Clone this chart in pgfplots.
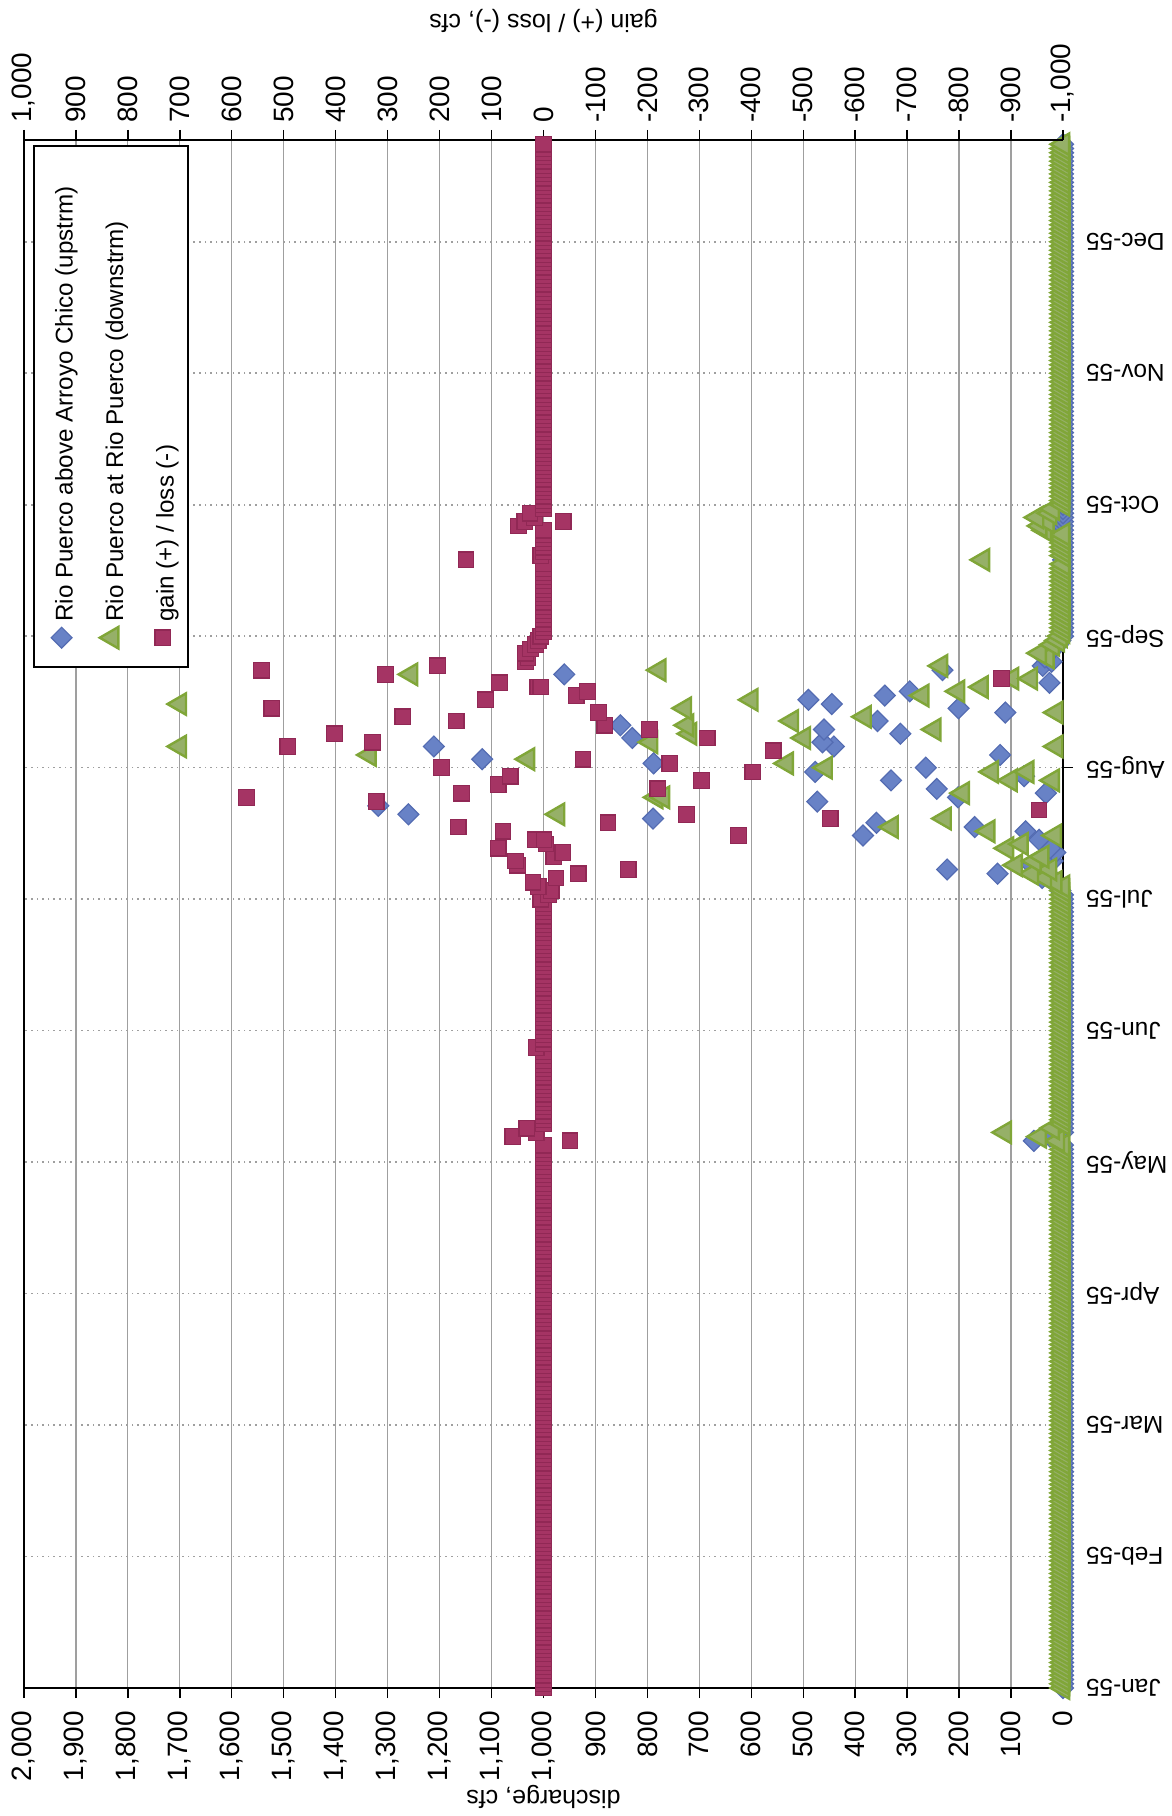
\documentclass[border=0pt]{standalone}
\usepackage{fontspec}
\setmainfont{Liberation Sans}
\usepackage{graphicx}
\usepackage{pgfplots}
\pgfplotsset{compat=1.18}
\definecolor{upblue}{RGB}{104,130,198}
\definecolor{upbluedk}{RGB}{84,108,178}
\definecolor{dngreen}{RGB}{150,176,104}
\definecolor{dngreendk}{RGB}{128,166,56}
\definecolor{gainred}{RGB}{165,52,100}
\definecolor{gainreddk}{RGB}{145,40,85}
\pgfplotsset{
 legimg/.style={legend image code/.code={\path (-4.7pt,0pt) (0pt,0pt); \draw[overlay,##1] plot coordinates {(5.8pt,-4pt)};}},
 upst/.style={only marks, color=upblue, mark=square*, mark size=3.7pt, mark options={rotate=45, fill=upblue, draw=upbluedk, line width=0.6pt}, legimg},
 dnst/.style={only marks, color=dngreen, mark=triangle*, mark size=6.2pt, mark options={rotate=90, fill=dngreen, draw=dngreendk, line width=1.2pt}, legimg},
 gainst/.style={only marks, color=gainred, mark=square*, mark size=3.9pt, mark options={fill=gainred, draw=gainreddk, line width=0.6pt}, legimg},
}
\begin{document}
\begin{tikzpicture}
\begin{axis}[
  name=main, at={(0,0)}, anchor=south west,
  scale only axis, width=519.5pt, height=774pt,
  xmin=0, xmax=2000, x dir=reverse,
  ymin=0, ymax=365,
  xtick={0,100,...,2000},
  ytick={0,31,62,93,124,155,186,217,248,279,310,341},
  yticklabels={Jan-55,Feb-55,Mar-55,Apr-55,May-55,Jun-55,Jul-55,Aug-55,Sep-55,Oct-55,Nov-55,Dec-55},
  xtick pos=left, ytick pos=right, yticklabel pos=right,
  tick align=outside, major tick length=5pt,
  xmajorgrids, ymajorgrids,
  x grid style={gray!75, line width=0.6pt},
  y grid style={gray!75, line width=0.8pt, dotted},
  axis line style={line width=1pt},
  tick style={black, line width=0.7pt},
  clip=false,
  scaled x ticks=false,
  /pgf/number format/1000 sep={,},
  /pgf/number format/assume math mode=true,
  xticklabel style={rotate=90, anchor=east, font=\fontsize{14}{16}\selectfont},
  xticklabel shift=3pt,
  yticklabel style={rotate=180, anchor=east, font=\fontsize{12.2}{14}\selectfont},
  yticklabel shift=3pt,
  xlabel={discharge, cfs},
  xlabel style={at={(axis description cs:0.5,-0.0704)}, anchor=center, rotate=180, font=\fontsize{12.5}{14}\selectfont},
]
\addplot[upst] coordinates {
(0,0)(0,1)(0,2)(0,3)(0,4)(0,5)(0,6)(0,7)(0,8)(0,9)
(0,10)(0,11)(0,12)(0,13)(0,14)(0,15)(0,16)(0,17)(0,18)(0,19)
(0,20)(0,21)(0,22)(0,23)(0,24)(0,25)(0,26)(0,27)(0,28)(0,29)
(0,30)(0,31)(0,32)(0,33)(0,34)(0,35)(0,36)(0,37)(0,38)(0,39)
(0,40)(0,41)(0,42)(0,43)(0,44)(0,45)(0,46)(0,47)(0,48)(0,49)
(0,50)(0,51)(0,52)(0,53)(0,54)(0,55)(0,56)(0,57)(0,58)(0,59)
(0,60)(0,61)(0,62)(0,63)(0,64)(0,65)(0,66)(0,67)(0,68)(0,69)
(0,70)(0,71)(0,72)(0,73)(0,74)(0,75)(0,76)(0,77)(0,78)(0,79)
(0,80)(0,81)(0,82)(0,83)(0,84)(0,85)(0,86)(0,87)(0,88)(0,89)
(0,90)(0,91)(0,92)(0,93)(0,94)(0,95)(0,96)(0,97)(0,98)(0,99)
(0,100)(0,101)(0,102)(0,103)(0,104)(0,105)(0,106)(0,107)(0,108)(0,109)
(0,110)(0,111)(0,112)(0,113)(0,114)(0,115)(0,116)(0,117)(0,118)(0,119)
(0,120)(0,121)(0,122)(0,123)(0,124)(0,125)(0,126)(0,127)(0,128)
(56,129)(25,130)(0,131)
(0,132)(0,133)(0,134)(0,135)(0,136)(0,137)(0,138)(0,139)
(0,140)(0,141)(0,142)(0,143)(0,144)(0,145)(0,146)(0,147)(0,148)(0,149)
(0,150)(0,151)(0,152)(0,153)(0,154)(0,155)(0,156)(0,157)(0,158)(0,159)
(0,160)(0,161)(0,162)(0,163)(0,164)(0,165)(0,166)(0,167)(0,168)(0,169)
(0,170)(0,171)(0,172)(0,173)(0,174)(0,175)(0,176)(0,177)(0,178)(0,179)
(0,180)(0,181)(0,182)(0,183)(0,184)(0,185)(0,186)(0,187)
(5,188)(10,189)(15,190)(40,191)(29,192)(126,192)(223,193)(60,194)(20,195)(35,196)
(15,197)(25,198)(46,200)(385,201)(72,202)(170,203)(359,204)(789,205)(1260,206)(1318,208)
(473,209)(202,210)(33,211)(243,212)(331,214)(75,215)(477,216)(264,217)(788,218)(1118,219)
(121,220)(441,222)(1211,222)(463,223)(829,224)(313,225)(460,226)(852,227)(357,228)(111,230)
(201,231)(445,232)(490,233)(343,234)(295,235)(26,237)(960,239)(232,240)(39,241)(22,242)
(35,243)(20,245)(10,246)(5,247)
(0,248)(0,249)
(0,250)(0,251)(0,252)(0,253)(0,254)(0,255)(0,256)(0,257)(0,258)(0,259)
(0,260)(0,261)(0,262)(0,263)(0,264)(0,265)(0,266)(0,267)(0,268)(0,269)
(0,270)(0,271)(0,272)(0,273)(0,274)(0,275)(0,276)(0,277)(0,278)(0,279)
(0,280)(0,281)(0,282)(0,283)(0,284)(0,285)(0,286)(0,287)(0,288)(0,289)
(0,290)(0,291)(0,292)(0,293)(0,294)(0,295)(0,296)(0,297)(0,298)(0,299)
(0,300)(0,301)(0,302)(0,303)(0,304)(0,305)(0,306)(0,307)(0,308)(0,309)
(0,310)(0,311)(0,312)(0,313)(0,314)(0,315)(0,316)(0,317)(0,318)(0,319)
(0,320)(0,321)(0,322)(0,323)(0,324)(0,325)(0,326)(0,327)(0,328)(0,329)
(0,330)(0,331)(0,332)(0,333)(0,334)(0,335)(0,336)(0,337)(0,338)(0,339)
(0,340)(0,341)(0,342)(0,343)(0,344)(0,345)(0,346)(0,347)(0,348)(0,349)
(0,350)(0,351)(0,352)(0,353)(0,354)(0,355)(0,356)(0,357)(0,358)(0,359)
(0,360)(0,361)(0,362)(0,363)(0,364)
};
\addplot[dnst] coordinates {
(0,0)(0,1)(0,2)(0,3)(0,4)(0,5)(0,6)(0,7)(0,8)(0,9)
(0,10)(0,11)(0,12)(0,13)(0,14)(0,15)(0,16)(0,17)(0,18)(0,19)
(0,20)(0,21)(0,22)(0,23)(0,24)(0,25)(0,26)(0,27)(0,28)(0,29)
(0,30)(0,31)(0,32)(0,33)(0,34)(0,35)(0,36)(0,37)(0,38)(0,39)
(0,40)(0,41)(0,42)(0,43)(0,44)(0,45)(0,46)(0,47)(0,48)(0,49)
(0,50)(0,51)(0,52)(0,53)(0,54)(0,55)(0,56)(0,57)(0,58)(0,59)
(0,60)(0,61)(0,62)(0,63)(0,64)(0,65)(0,66)(0,67)(0,68)(0,69)
(0,70)(0,71)(0,72)(0,73)(0,74)(0,75)(0,76)(0,77)(0,78)(0,79)
(0,80)(0,81)(0,82)(0,83)(0,84)(0,85)(0,86)(0,87)(0,88)(0,89)
(0,90)(0,91)(0,92)(0,93)(0,94)(0,95)(0,96)(0,97)(0,98)(0,99)
(0,100)(0,101)(0,102)(0,103)(0,104)(0,105)(0,106)(0,107)(0,108)(0,109)
(0,110)(0,111)(0,112)(0,113)(0,114)(0,115)(0,116)(0,117)(0,118)(0,119)
(0,120)(0,121)(0,122)(0,123)(0,124)(0,125)(0,126)(0,127)(0,128)
(10,129)(45,130)(112,131)(20,132)
(0,133)(0,134)(0,135)(0,136)(0,137)(0,138)(0,139)
(0,140)(0,141)(0,142)(0,143)(0,144)(0,145)(0,146)(0,147)(0,148)(0,149)
(0,150)(0,151)(0,152)(0,153)(0,154)(0,155)(0,156)(0,157)(0,158)(0,159)
(0,160)(0,161)(0,162)(0,163)(0,164)(0,165)(0,166)(0,167)(0,168)(0,169)
(0,170)(0,171)(0,172)(0,173)(0,174)(0,175)(0,176)(0,177)(0,178)(0,179)
(0,180)(0,181)(0,182)(0,183)(0,184)(0,185)(0,186)(0,187)(0,188)(0,189)
(15,190)(35,191)(60,192)(25,193)(91,194)(55,195)(40,196)(108,198)(80,199)(16,201)
(144,202)(330,203)(228,205)(972,206)(783,210)(770,210)(193,211)(101,214)(20,214)(137,216)
(69,216)(457,217)(532,218)(1030,219)(1335,220)(1700,222)(13,222)(793,223)(499,224)(718,225)
(248,226)(724,227)(522,228)(382,229)(13,230)(728,231)(1700,232)(600,233)(271,234)(202,235)
(157,236)(98,238)(62,238)(1255,239)(777,240)(235,241)(30,243)(45,244)(20,246)(10,247)
(5,248)
(0,249)
(0,250)(0,251)(0,252)(0,253)(0,254)(0,255)(0,256)(0,257)(0,258)(0,259)
(0,260)(0,261)(0,262)(0,263)(0,264)(0,265)(154,266)(0,267)(0,268)(0,269)
(0,270)(0,271)(0,272)(35,273)(44,274)(30,275)(50,276)(25,277)(20,278)(0,279)
(0,280)(0,281)(0,282)(0,283)(0,284)(0,285)(0,286)(0,287)(0,288)(0,289)
(0,290)(0,291)(0,292)(0,293)(0,294)(0,295)(0,296)(0,297)(0,298)(0,299)
(0,300)(0,301)(0,302)(0,303)(0,304)(0,305)(0,306)(0,307)(0,308)(0,309)
(0,310)(0,311)(0,312)(0,313)(0,314)(0,315)(0,316)(0,317)(0,318)(0,319)
(0,320)(0,321)(0,322)(0,323)(0,324)(0,325)(0,326)(0,327)(0,328)(0,329)
(0,330)(0,331)(0,332)(0,333)(0,334)(0,335)(0,336)(0,337)(0,338)(0,339)
(0,340)(0,341)(0,342)(0,343)(0,344)(0,345)(0,346)(0,347)(0,348)(0,349)
(0,350)(0,351)(0,352)(0,353)(0,354)(0,355)(0,356)(0,357)(0,358)(0,359)
(0,360)(0,361)(0,362)(0,363)(0,364)
};
\end{axis}
\begin{axis}[
  at={(0,0)}, anchor=south west,
  scale only axis, width=519.5pt, height=774pt,
  xmin=-1000, xmax=1000, x dir=reverse,
  ymin=0, ymax=365,
  axis x line*=top, axis y line=none,
  xtick={-1000,-900,...,1000},
  tick align=outside, major tick length=5pt,
  axis line style={line width=1pt},
  tick style={black, line width=0.7pt},
  clip=false,
  scaled x ticks=false,
  /pgf/number format/1000 sep={,},
  /pgf/number format/assume math mode=true,
  xticklabel style={rotate=90, anchor=west, font=\fontsize{14}{16}\selectfont},
  xlabel={gain (+) / loss (-), cfs},
  xlabel style={at={(axis description cs:0.5,1.0769)}, anchor=center, rotate=180, font=\fontsize{12.5}{14}\selectfont},
  legend columns=3,
  legend style={anchor=north west, at={(axis description cs:0.0087,0.9968)},
    draw=black, line width=1pt, fill=white, font=\fontsize{12.1}{14.5}\selectfont,
    inner xsep=2.8pt, inner ysep=18pt, column sep=0pt,
    /tikz/every even column/.append style={column sep=4.3pt},
    cells={anchor=south west, inner sep=1pt}},
]
\addlegendimage{upst}
\addlegendentry{\rotatebox{90}{Rio Puerco above Arroyo Chico (upstrm)}}
\addlegendimage{dnst}
\addlegendentry{\rotatebox{90}{Rio Puerco at Rio Puerco (downstrm)}}
\addplot[gainst] coordinates {
(0,0)(0,1)(0,2)(0,3)(0,4)(0,5)(0,6)(0,7)(0,8)(0,9)
(0,10)(0,11)(0,12)(0,13)(0,14)(0,15)(0,16)(0,17)(0,18)(0,19)
(0,20)(0,21)(0,22)(0,23)(0,24)(0,25)(0,26)(0,27)(0,28)(0,29)
(0,30)(0,31)(0,32)(0,33)(0,34)(0,35)(0,36)(0,37)(0,38)(0,39)
(0,40)(0,41)(0,42)(0,43)(0,44)(0,45)(0,46)(0,47)(0,48)(0,49)
(0,50)(0,51)(0,52)(0,53)(0,54)(0,55)(0,56)(0,57)(0,58)(0,59)
(0,60)(0,61)(0,62)(0,63)(0,64)(0,65)(0,66)(0,67)(0,68)(0,69)
(0,70)(0,71)(0,72)(0,73)(0,74)(0,75)(0,76)(0,77)(0,78)(0,79)
(0,80)(0,81)(0,82)(0,83)(0,84)(0,85)(0,86)(0,87)(0,88)(0,89)
(0,90)(0,91)(0,92)(0,93)(0,94)(0,95)(0,96)(0,97)(0,98)(0,99)
(0,100)(0,101)(0,102)(0,103)(0,104)(0,105)(0,106)(0,107)(0,108)(0,109)
(0,110)(0,111)(0,112)(0,113)(0,114)(0,115)(0,116)(0,117)(0,118)(0,119)
(0,120)(0,121)(0,122)(0,123)(0,124)(0,125)(0,126)(0,127)(0,128)
(-51,129)(59,130)(14,131)(32,132)
(0,133)(0,134)(0,135)(0,136)(0,137)(0,138)(0,139)
(0,140)(0,141)(0,142)(0,143)(0,144)(0,145)(0,146)(0,147)(0,148)(0,149)
(0,150)(14,151)(0,152)(0,153)(0,154)(0,155)(0,156)(0,157)(0,158)(0,159)
(0,160)(0,161)(0,162)(0,163)(0,164)(0,165)(0,166)(0,167)(0,168)(0,169)
(0,170)(0,171)(0,172)(0,173)(0,174)(0,175)(0,176)(0,177)(0,178)(0,179)
(0,180)(0,181)(0,182)(0,183)(0,184)(0,185)
(5,186)(-10,187)(-15,188)(10,189)(20,190)(-24,191)(-67,192)(-163,193)(50,194)(54,195)
(-20,196)(-37,197)(87,198)(-5,199)(15,200)(-1,200)(-375,201)(78,202)(164,203)(-124,204)
(-552,205)(-275,206)(-954,207)(322,209)(572,210)(158,211)(-220,212)(87,213)(-304,214)(64,215)
(-403,216)(196,217)(-243,218)(-76,219)(-442,221)(492,222)(329,223)(-315,224)(402,225)(-204,226)
(-118,227)(168,228)(271,229)(-106,230)(523,231)(112,233)(-63,234)(-85,235)(11,236)(5,236)
(85,237)(-882,238)(304,239)(543,240)(204,241)(35,242)(30,243)(35,244)(25,245)(15,246)
(10,247)(5,248)
(0,249)
(0,250)(0,251)(0,252)(0,253)(0,254)(0,255)(0,256)(0,257)(0,258)(0,259)
(0,260)(0,261)(0,262)(0,263)(0,264)(0,265)(149,266)(5,267)(0,268)(0,269)
(0,270)(0,271)(0,272)(0,273)(48,274)(36,275)(-38,275)(17,276)(26,277)(0,278)(0,279)
(0,280)(0,281)(0,282)(0,283)(0,284)(0,285)(0,286)(0,287)(0,288)(0,289)
(0,290)(0,291)(0,292)(0,293)(0,294)(0,295)(0,296)(0,297)(0,298)(0,299)
(0,300)(0,301)(0,302)(0,303)(0,304)(0,305)(0,306)(0,307)(0,308)(0,309)
(0,310)(0,311)(0,312)(0,313)(0,314)(0,315)(0,316)(0,317)(0,318)(0,319)
(0,320)(0,321)(0,322)(0,323)(0,324)(0,325)(0,326)(0,327)(0,328)(0,329)
(0,330)(0,331)(0,332)(0,333)(0,334)(0,335)(0,336)(0,337)(0,338)(0,339)
(0,340)(0,341)(0,342)(0,343)(0,344)(0,345)(0,346)(0,347)(0,348)(0,349)
(0,350)(0,351)(0,352)(0,353)(0,354)(0,355)(0,356)(0,357)(0,358)(0,359)
(0,360)(0,361)(0,362)(0,363)(0,364)
};
\addlegendentry{\rotatebox{90}{gain (+) / loss (-)}}
\end{axis}
\pgfresetboundingbox
\useasboundingbox (-12pt,-64pt) rectangle (574pt,844pt);
\end{tikzpicture}
\end{document}
